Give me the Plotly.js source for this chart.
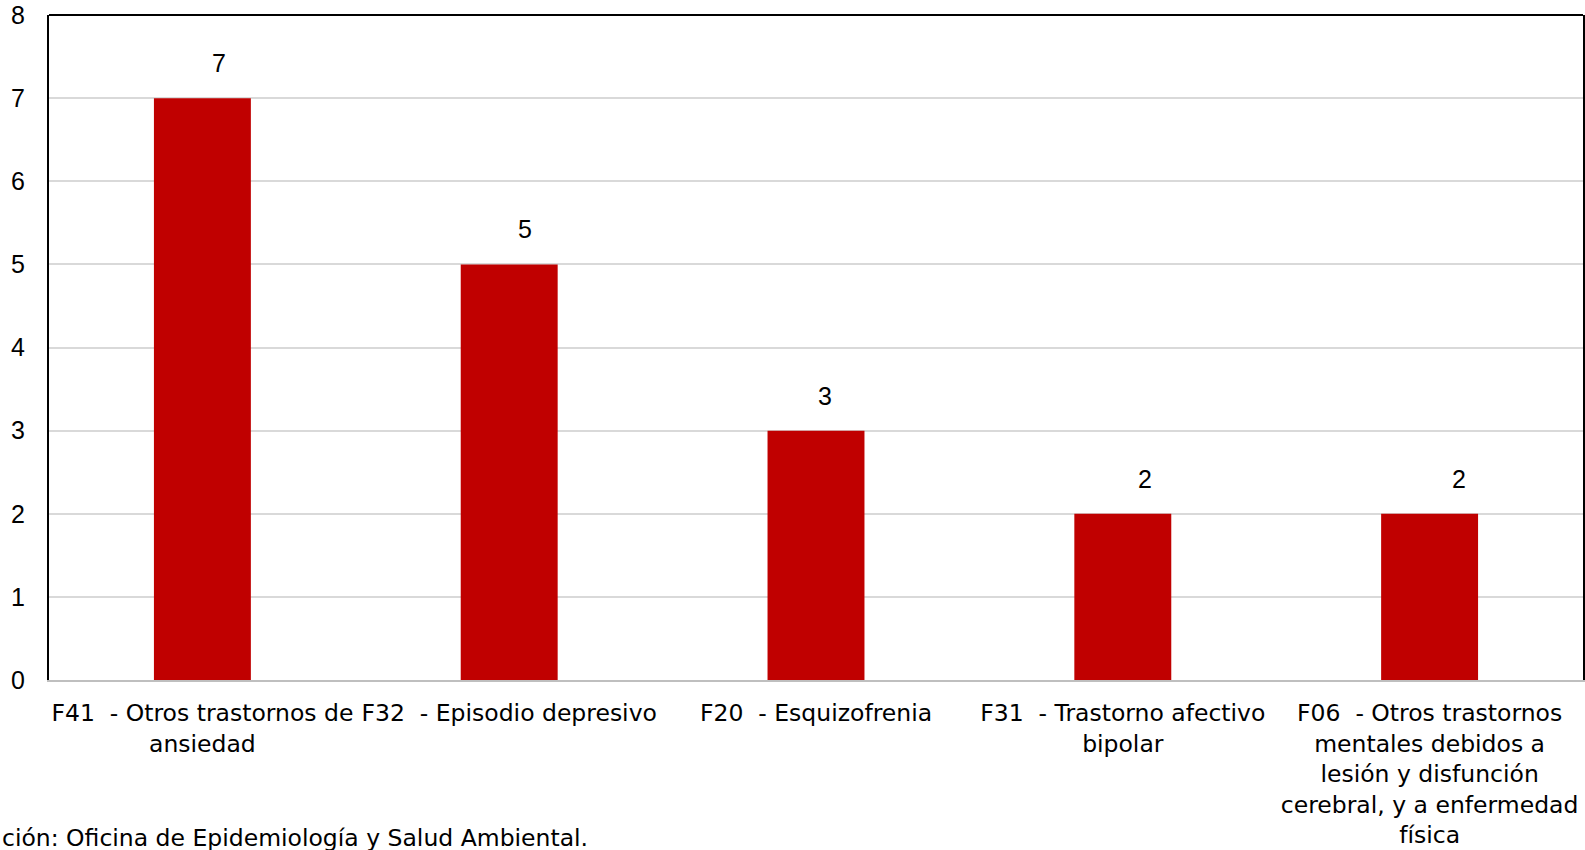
<!DOCTYPE html>
<html>
<head>
<meta charset="utf-8">
<script src="https://cdn.plot.ly/plotly-3.0.1.min.js"></script>
<style>html,body{margin:0;padding:0;background:#fff;}#chart{width:1585px;height:850px;}</style>
</head>
<body>
<div id="chart"></div>
<script>
const categories = [
  "F41\u00a0 - Otros trastornos de<br>ansiedad",
  "F32\u00a0 - Episodio depresivo",
  "F20\u00a0 - Esquizofrenia",
  "F31\u00a0 - Trastorno afectivo<br>bipolar",
  "F06\u00a0 - Otros trastornos<br>mentales debidos a<br>lesión y disfunción<br>cerebral, y a enfermedad<br>física"
];
const values = [7, 5, 3, 2, 2];
const yTicks = [0, 1, 2, 3, 4, 5, 6, 7, 8];
const footnote = "ción: Oficina de Epidemiología y Salud Ambiental.";

const labelXShift = [17, 16, 9, 22, 29];
const FONT = "Liberation Sans, Arial, sans-serif";
const WIDE = "DejaVu Sans, sans-serif";

const trace = {
  type: "bar",
  x: categories,
  y: values,
  marker: {color: "#C00000"},
  hoverinfo: "skip"
};

const annotations = values.map((v, i) => ({
  x: categories[i], y: v, xref: "x", yref: "y",
  text: String(v), showarrow: false,
  xanchor: "center", yanchor: "middle",
  xshift: labelXShift[i], yshift: 35,
  font: {family: FONT, size: 25, color: "#000"}
}));
annotations.push({
  xref: "paper", yref: "paper", x: -49/1534, y: -158/665,
  xanchor: "left", yanchor: "middle", showarrow: false,
  text: footnote, font: {family: WIDE, size: 23.5, color: "#000"}
});

const layout = {
  width: 1585, height: 850,
  margin: {l: 49, r: 2, t: 15, b: 170, pad: 0},
  paper_bgcolor: "#fff", plot_bgcolor: "#fff",
  showlegend: false,
  bargap: 0.684,
  font: {family: FONT, size: 24, color: "#000"},
  xaxis: {
    type: "category",
    showline: true, linecolor: "#BFBFBF", linewidth: 2,
    ticks: "", showgrid: false, zeroline: false,
    tickangle: 0,
    tickfont: {family: WIDE, size: 23.5, color: "#000"},
    ticklabelstandoff: 11
  },
  yaxis: {
    range: [0, 8], tickvals: yTicks, ticktext: yTicks.map(String),
    showline: true, linecolor: "#000", linewidth: 2, mirror: true,
    showgrid: true, gridcolor: "#D9D9D9", gridwidth: 2,
    zeroline: false, ticks: "",
    tickfont: {family: FONT, size: 25, color: "#000"},
    ticklabelstandoff: 17
  },
  shapes: [{
    type: "line", xref: "paper", yref: "paper", x0: 0, x1: 1, y0: 1, y1: 1,
    line: {color: "#000", width: 2}
  }],
  annotations: annotations
};

Plotly.newPlot("chart", [trace], layout, {staticPlot: true, displayModeBar: false});
</script>
</body>
</html>
